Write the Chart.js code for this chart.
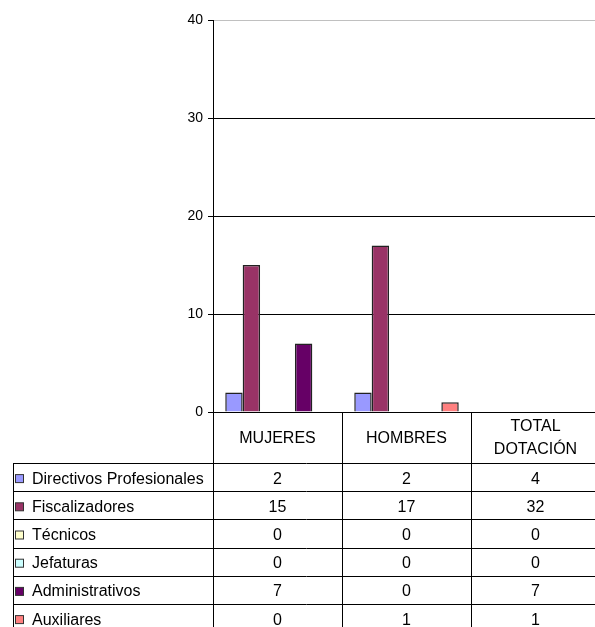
<!DOCTYPE html>
<html>
<head>
<meta charset="utf-8">
<script src="https://cdn.jsdelivr.net/npm/chart.js@4/dist/chart.umd.min.js"></script>
<style>
  html, body { margin: 0; padding: 0; background: #fff; overflow: hidden; }
  #wrap { width: 600px; height: 627px; position: relative; }
</style>
</head>
<body>
<div id="wrap"><canvas id="chart"></canvas></div>
<script>
// categories (columns of the data table) and which of them get bars
const categories = ["MUJERES", "HOMBRES", "TOTAL DOTACIÓN"];
const plotted = [true, true, false];

// series names, colours and values per category
const seriesNames = ["Directivos Profesionales", "Fiscalizadores", "Técnicos", "Jefaturas", "Administrativos", "Auxiliares"];
const seriesColors = ["#9999FF", "#993366", "#FFFFCC", "#CCFFFF", "#660066", "#FF8080"];
const directivos = [2, 2, 4];
const fiscalizadores = [15, 17, 32];
const tecnicos = [0, 0, 0];
const jefaturas = [0, 0, 0];
const administrativos = [7, 0, 7];
const auxiliares = [0, 1, 1];
const seriesValues = [directivos, fiscalizadores, tecnicos, jefaturas, administrativos, auxiliares];

const yTicks = [0, 10, 20, 30, 40];

const FONT = "'Liberation Sans', Arial, sans-serif";
const TABLE_LEFT = 13;
const HEADER_BOTTOM = 463;
const ROW_H = 28.2;

// draws the data table (header + rows with legend keys) below the plot
const dataTable = {
  id: "dataTable",
  afterDraw(chart) {
    const ctx = chart.ctx;
    const area = chart.chartArea;
    const x = chart.scales.x;
    const W = chart.width, H = chart.height;
    const half = (x.getPixelForValue(1) - x.getPixelForValue(0)) / 2;
    ctx.save();
    ctx.strokeStyle = "#000";
    ctx.lineWidth = 1;
    ctx.beginPath();
    // vertical lines: axis continues, column dividers
    ctx.moveTo(Math.round(area.left) + 0.5, area.bottom);
    ctx.lineTo(Math.round(area.left) + 0.5, H);
    for (let i = 1; i < categories.length; i++) {
      const px = Math.round(x.getPixelForValue(i) - half) + 0.5;
      ctx.moveTo(px, area.bottom);
      ctx.lineTo(px, H);
    }
    ctx.moveTo(TABLE_LEFT + 0.5, HEADER_BOTTOM);
    ctx.lineTo(TABLE_LEFT + 0.5, H);
    // horizontal row lines
    for (let r = 0; r < seriesNames.length; r++) {
      const py = Math.round(HEADER_BOTTOM + r * ROW_H) + 0.5;
      ctx.moveTo(TABLE_LEFT, py);
      ctx.lineTo(W, py);
    }
    ctx.stroke();

    ctx.fillStyle = "#000";
    ctx.font = "16px " + FONT;
    ctx.textAlign = "center";
    ctx.textBaseline = "middle";
    // header
    const headMid = (area.bottom + HEADER_BOTTOM) / 2;
    categories.forEach((c, i) => {
      const cx = x.getPixelForValue(i);
      const words = c.split(" ");
      if (words.length > 1) {
        ctx.fillText(words[0], cx, headMid - 11);
        ctx.fillText(words.slice(1).join(" "), cx, headMid + 12);
      } else {
        ctx.fillText(c, cx, headMid + 1);
      }
    });
    // rows
    seriesNames.forEach((name, r) => {
      const cy = HEADER_BOTTOM + r * ROW_H + ROW_H / 2 + 2;
      ctx.fillStyle = seriesColors[r];
      ctx.fillRect(15.5, cy - 4.5, 8, 8);
      ctx.strokeStyle = "#333";
      ctx.strokeRect(15.5, cy - 4.5, 8, 8);
      ctx.fillStyle = "#000";
      ctx.textAlign = "left";
      ctx.fillText(name, 32, cy);
      ctx.textAlign = "center";
      seriesValues[r].forEach((v, i) => ctx.fillText(String(v), x.getPixelForValue(i), cy));
    });
    ctx.restore();
  }
};

new Chart(document.getElementById("chart"), {
  type: "bar",
  data: {
    labels: categories,
    datasets: seriesNames.map((name, s) => ({
      label: name,
      data: seriesValues[s].map((v, i) => plotted[i] ? v : null),
      backgroundColor: seriesColors[s],
      borderColor: "#222",
      borderWidth: 1.5,
      categoryPercentage: 0.81,
      barPercentage: 1
    }))
  },
  options: {
    responsive: true, maintainAspectRatio: false, animation: false,
    layout: { padding: { top: 20, right: 0, bottom: 215, left: 0 } },
    plugins: { legend: { display: false }, tooltip: { enabled: false } },
    scales: {
      x: { display: false },
      y: {
        min: 0, max: 40,
        afterFit: s => { s.width = 213; },
        afterBuildTicks: s => { s.ticks = yTicks.map(v => ({ value: v })); },
        ticks: { color: "#000", font: { family: FONT, size: 14 }, padding: 5 },
        border: { color: "#000", width: 1 },
        grid: {
          color: c => c.tick && c.tick.value === 40 ? "#c0c0c0" : "#000",
          tickColor: "#000",
          tickLength: 5
        }
      }
    }
  },
  plugins: [dataTable]
});
</script>
</body>
</html>
